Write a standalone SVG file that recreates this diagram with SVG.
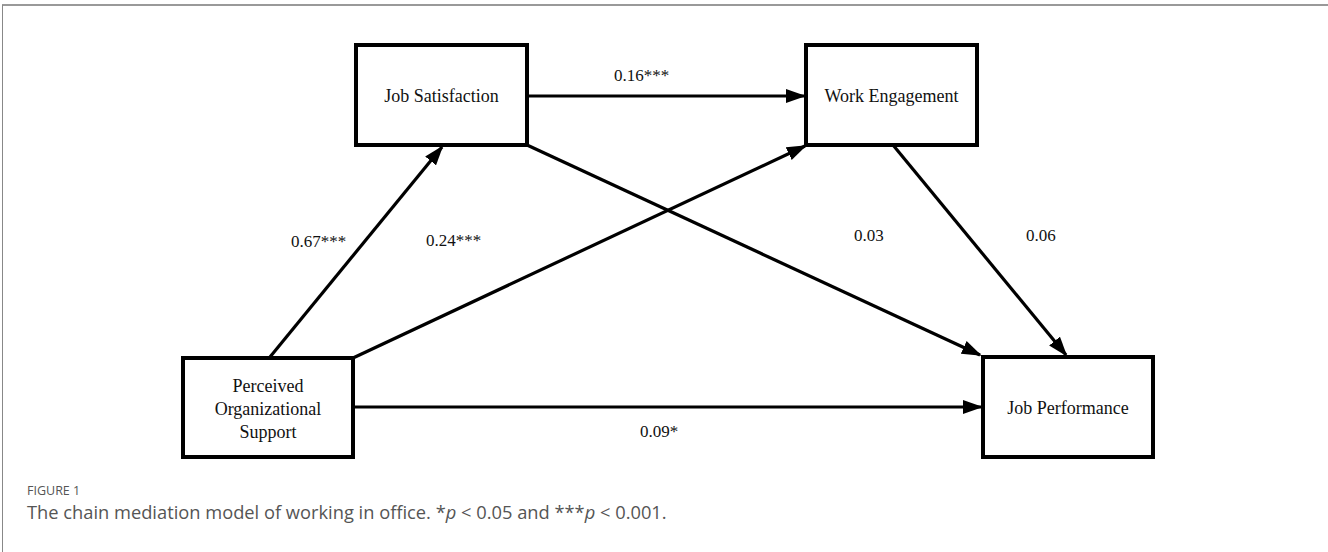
<svg xmlns="http://www.w3.org/2000/svg" width="1328" height="552" viewBox="0 0 1328 552">
<style>
.box{fill:#fff;stroke:#000;stroke-width:4}
.nt{font-family:"Liberation Serif","Times New Roman",serif;font-size:18px;fill:#111;text-anchor:middle}
.lb{font-family:"Liberation Serif","Times New Roman",serif;font-size:17px;fill:#111}
.cn{stroke:#000;stroke-width:3.2;fill:none;marker-end:url(#ah)}
.cap{font-family:"Open Sans","Noto Sans",sans-serif;fill:#555}
</style>
<defs>
<marker id="ah" markerUnits="userSpaceOnUse" markerWidth="20" markerHeight="14" refX="18" refY="7" orient="auto">
<path d="M0,0 L20,7 L0,14 z" fill="#000"/>
</marker>
</defs>
<rect x="0" y="0" width="1328" height="552" fill="#fff"/>
<line x1="2" y1="5" x2="1328" y2="5" stroke="#999" stroke-width="2"/>
<line x1="2.5" y1="5" x2="2.5" y2="552" stroke="#888" stroke-width="1"/>
<g id="connectors">
<line class="cn" x1="270" y1="357" x2="442" y2="147"/>
<line class="cn" x1="353" y1="358" x2="805" y2="146"/>
<line class="cn" x1="355" y1="407" x2="981" y2="407"/>
<line class="cn" x1="528" y1="96" x2="804" y2="96"/>
<line class="cn" x1="527" y1="145" x2="980" y2="355"/>
<line class="cn" x1="893" y1="145" x2="1066" y2="355"/>
</g>
<g id="labels">
<text class="lb" x="291" y="247">0.67***</text>
<text class="lb" x="614" y="81">0.16***</text>
<text class="lb" x="426" y="246">0.24***</text>
<text class="lb" x="854" y="241">0.03</text>
<text class="lb" x="1026" y="241">0.06</text>
<text class="lb" x="640" y="437">0.09*</text>
</g>
<g id="job-satisfaction">
<rect class="box" x="356" y="45" width="171" height="100"/>
<text class="nt" x="441.5" y="102">Job Satisfaction</text>
</g>
<g id="work-engagement">
<rect class="box" x="806" y="45" width="171" height="100"/>
<text class="nt" x="891.5" y="102">Work Engagement</text>
</g>
<g id="perceived-organizational-support">
<rect class="box" x="183" y="358" width="170" height="99"/>
<text class="nt" x="268" y="392">Perceived</text>
<text class="nt" x="268" y="415">Organizational</text>
<text class="nt" x="268" y="438">Support</text>
</g>
<g id="job-performance">
<rect class="box" x="983" y="357" width="170" height="100"/>
<text class="nt" x="1068" y="414">Job Performance</text>
</g>
<g id="caption">
<text class="cap" x="27" y="495" font-size="12.5">FIGURE 1</text>
<text class="cap" x="27" y="519" font-size="18.3">The chain mediation model of working in office. *<tspan font-style="italic">p</tspan> &lt; 0.05 and ***<tspan font-style="italic">p</tspan> &lt; 0.001.</text>
</g>
</svg>
